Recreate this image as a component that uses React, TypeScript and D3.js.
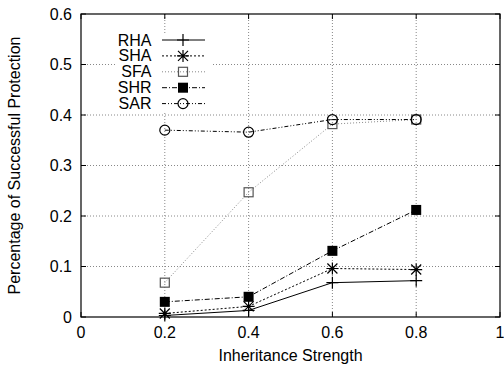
import { useEffect, useRef } from "react"
import * as d3 from "d3"

const strengths = [0.2, 0.4, 0.6, 0.8]
const seriesNames = ["RHA", "SHA", "SFA", "SHR", "SAR"]
const rha = [0.003, 0.013, 0.068, 0.072]
const sha = [0.007, 0.021, 0.096, 0.094]
const sfa = [0.068, 0.247, 0.382, 0.391]
const shr = [0.03, 0.04, 0.131, 0.212]
const sar = [0.37, 0.366, 0.391, 0.391]
const xTicks = [0, 0.2, 0.4, 0.6, 0.8, 1]
const yTicks = [0, 0.1, 0.2, 0.3, 0.4, 0.5, 0.6]

const valores = [rha, sha, sfa, shr, sar]
const estilos: Record<string, { color: string; dash: string | null; marker: string }> = {
  RHA: { color: "#000", dash: null, marker: "plus" },
  SHA: { color: "#000", dash: "2,2", marker: "star" },
  SFA: { color: "#888", dash: "1,2", marker: "square" },
  SHR: { color: "#000", dash: "5,2,1,2", marker: "fsquare" },
  SAR: { color: "#000", dash: "4,2,1,2,1,2", marker: "circle" },
}

export default function App() {
  const svgRef = useRef<SVGSVGElement>(null)

  useEffect(() => {
    if (!svgRef.current) return
    const svg = d3.select(svgRef.current)
    svg.selectAll("*").remove()

    const width = 504
    const height = 366
    const margin = { top: 14, right: 4, bottom: 49, left: 81 }
    const innerWidth = width - margin.left - margin.right
    const innerHeight = height - margin.top - margin.bottom
    const fuente = "'Liberation Sans', Arial, sans-serif"
    const tam = "16px"

    svg.append("rect").attr("width", width).attr("height", height).attr("fill", "#fff")

    const g = svg.append("g").attr("transform", `translate(${margin.left},${margin.top})`)

    const x = d3.scaleLinear().domain([0, 1]).range([0, innerWidth])
    const y = d3.scaleLinear().domain([0, 0.6]).range([innerHeight, 0])

    // Rejilla
    g.selectAll(".gx")
      .data(xTicks.slice(1, -1))
      .enter()
      .append("line")
      .attr("x1", (d) => x(d))
      .attr("x2", (d) => x(d))
      .attr("y1", 0)
      .attr("y2", innerHeight)
      .attr("stroke", "#888")
      .attr("stroke-dasharray", "1,2")
    g.selectAll(".gy")
      .data(yTicks.slice(1, -1))
      .enter()
      .append("line")
      .attr("x1", 0)
      .attr("x2", innerWidth)
      .attr("y1", (d) => y(d))
      .attr("y2", (d) => y(d))
      .attr("stroke", "#888")
      .attr("stroke-dasharray", "1,2")

    // Ticks interiores en los cuatro lados
    const tk = 5
    xTicks.forEach((t) => {
      g.append("line").attr("x1", x(t)).attr("x2", x(t)).attr("y1", innerHeight).attr("y2", innerHeight - tk).attr("stroke", "#000")
      g.append("line").attr("x1", x(t)).attr("x2", x(t)).attr("y1", 0).attr("y2", tk).attr("stroke", "#000")
      g.append("text")
        .attr("x", x(t))
        .attr("y", innerHeight + 21)
        .attr("text-anchor", "middle")
        .style("font-family", fuente)
        .style("font-size", tam)
        .text(String(t))
    })
    yTicks.forEach((t) => {
      g.append("line").attr("x1", 0).attr("x2", tk).attr("y1", y(t)).attr("y2", y(t)).attr("stroke", "#000")
      g.append("line").attr("x1", innerWidth).attr("x2", innerWidth - tk).attr("y1", y(t)).attr("y2", y(t)).attr("stroke", "#000")
      g.append("text")
        .attr("x", -9)
        .attr("y", y(t) + 5.5)
        .attr("text-anchor", "end")
        .style("font-family", fuente)
        .style("font-size", tam)
        .text(String(t))
    })

    const linea = d3
      .line<number>()
      .x((_, i) => x(strengths[i]))
      .y((d) => y(d))

    const dibujarMarca = (sel: any, tipo: string, cx: number, cy: number, color: string) => {
      if (tipo === "plus") {
        sel.append("path").attr("d", `M${cx - 6},${cy}H${cx + 6}M${cx},${cy - 6}V${cy + 6}`).attr("stroke", color).attr("stroke-width", 1.2)
      } else if (tipo === "star") {
        sel
          .append("path")
          .attr("d", `M${cx - 6},${cy}H${cx + 6}M${cx},${cy - 6}V${cy + 6}M${cx - 5},${cy - 5}L${cx + 5},${cy + 5}M${cx - 5},${cy + 5}L${cx + 5},${cy - 5}`)
          .attr("stroke", color)
          .attr("stroke-width", 1.2)
      } else if (tipo === "square") {
        sel.append("rect").attr("x", cx - 4.5).attr("y", cy - 4.5).attr("width", 9).attr("height", 9).attr("fill", "none").attr("stroke", "#555").attr("stroke-width", 1.2)
      } else if (tipo === "fsquare") {
        sel.append("rect").attr("x", cx - 5).attr("y", cy - 5).attr("width", 10).attr("height", 10).attr("fill", "#000")
      } else if (tipo === "circle") {
        sel.append("circle").attr("cx", cx).attr("cy", cy).attr("r", 5).attr("fill", "none").attr("stroke", color).attr("stroke-width", 1.2)
      }
    }

    // Series
    seriesNames.forEach((name, si) => {
      const st = estilos[name]
      const p = g
        .append("path")
        .datum(valores[si])
        .attr("fill", "none")
        .attr("stroke", st.color)
        .attr("stroke-width", 1)
        .attr("d", linea)
      if (st.dash) p.attr("stroke-dasharray", st.dash)
      valores[si].forEach((v, i) => dibujarMarca(g, st.marker, x(strengths[i]), y(v), st.color))
    })

    // Leyenda
    const legend = g.append("g")
    legend.append("rect").attr("x", 35).attr("y", 19).attr("width", 97).attr("height", 78).attr("fill", "#fff")
    seriesNames.forEach((name, i) => {
      const st = estilos[name]
      const ly = 26 + i * 15.9
      legend
        .append("text")
        .attr("x", 70.5)
        .attr("y", ly + 5.5)
        .attr("text-anchor", "end")
        .style("font-family", fuente)
        .style("font-size", tam)
        .text(name)
      const l = legend.append("line").attr("x1", 81).attr("x2", 124).attr("y1", ly).attr("y2", ly).attr("stroke", st.color)
      if (st.dash) l.attr("stroke-dasharray", st.dash)
      dibujarMarca(legend, st.marker, 102, ly, st.color)
    })

    // Borde
    g.append("rect").attr("width", innerWidth).attr("height", innerHeight).attr("fill", "none").attr("stroke", "#000").attr("stroke-width", 1.2)

    // Títulos
    svg
      .append("text")
      .attr("x", margin.left + innerWidth / 2)
      .attr("y", 361)
      .attr("text-anchor", "middle")
      .style("font-family", fuente)
      .style("font-size", tam)
      .text("Inheritance Strength")
    svg
      .append("text")
      .attr("transform", `translate(20,${margin.top + innerHeight / 2}) rotate(-90)`)
      .attr("text-anchor", "middle")
      .style("font-family", fuente)
      .style("font-size", tam)
      .text("Percentage of Successful Protection")
  }, [])

  return (
    <div style={{ position: "absolute", left: 0, top: 0 }}>
      <svg ref={svgRef} width={504} height={366} style={{ display: "block" }} />
    </div>
  )
}
